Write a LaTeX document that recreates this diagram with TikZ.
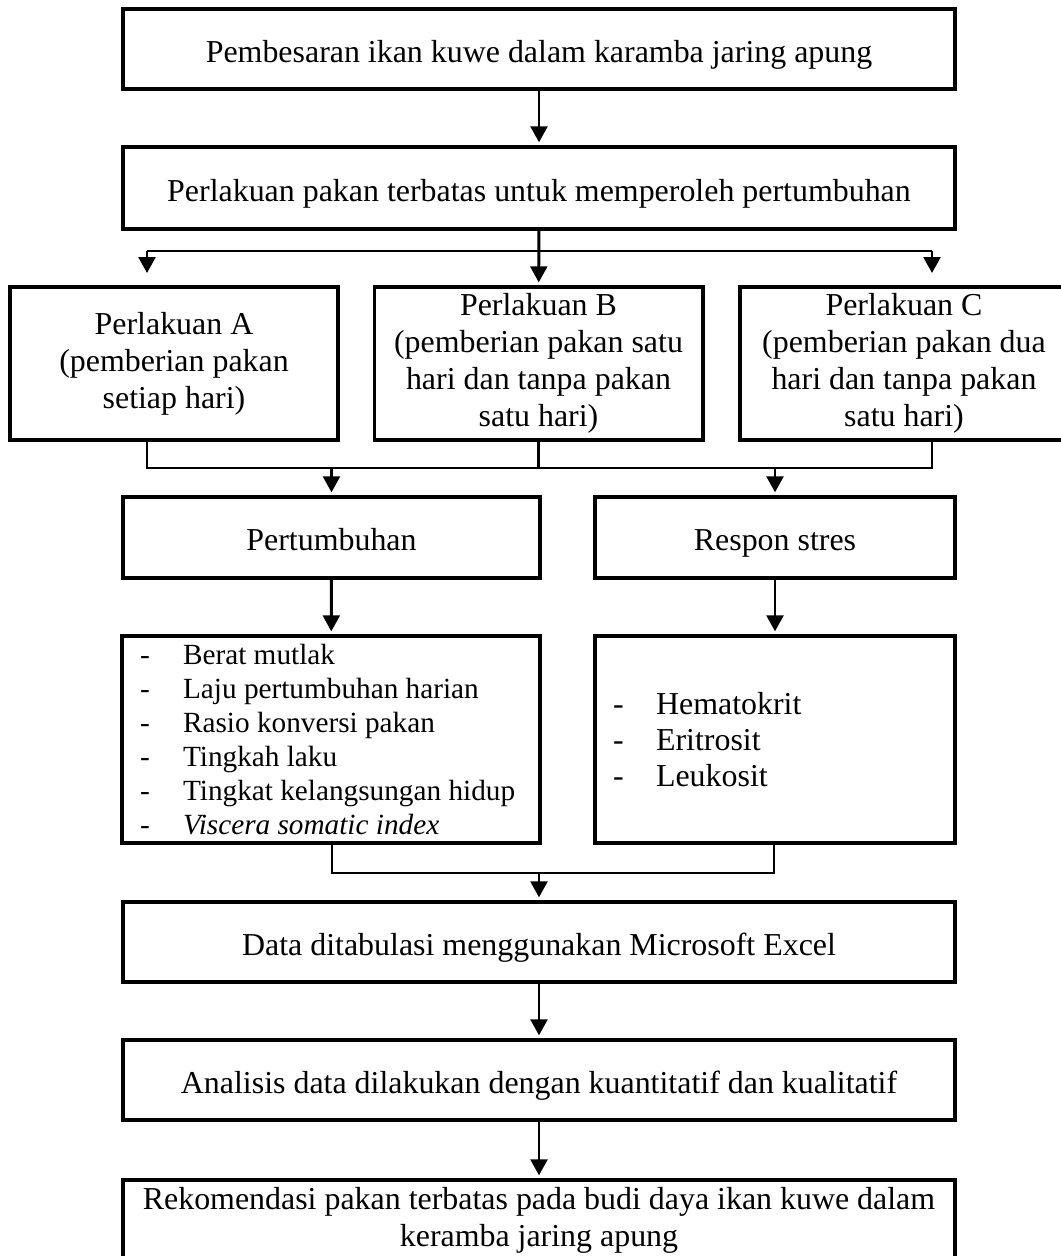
\documentclass[tikz,border=0pt]{standalone}
\usepackage{fontspec}
\setmainfont{Liberation Serif}
\usetikzlibrary{arrows.meta,positioning}
\newcommand{\px}{0.376pt}
\newcommand{\butir}[1]{\makebox[16.2pt][l]{-}#1}
\newcommand{\penyangga}{\rule[-0.3\baselineskip]{0pt}{1.33\baselineskip}}

\begin{document}
\begin{tikzpicture}[x=\px, y=-\px,
    dasar/.style={rectangle, draw, line width=1.5pt, align=center, inner sep=2pt, font=\fontsize{12}{13.9}\selectfont},
    box/.style={dasar, minimum width=832*\px, minimum height=80*\px, execute at begin node=\penyangga, execute at end node=\strut},
    perlakuan/.style={dasar, inner sep=0pt, minimum width=328*\px, minimum height=153*\px, execute at begin node=\rule{0pt}{12.5pt}},
    daftar/.style={dasar, minimum height=207*\px, align=flush left, inner xsep=18*\px, inner ysep=1pt},
    arrow/.style={-{Triangle[width=6.3pt,length=6pt]}, line width=1.1pt, shorten >=1pt},
    line/.style={line width=1.1pt}
]
    \useasboundingbox (0,0) rectangle (1060,1256);

    \node[box] (pembesaran) at (539,49) {Pembesaran ikan kuwe dalam karamba jaring apung};
    \node[box, minimum height=82*\px] (terbatas) at (539,188) {Perlakuan pakan terbatas untuk memperoleh pertumbuhan};

    \node[perlakuan] (perlA) at (174,363.5) {Perlakuan A\\(pemberian pakan\\setiap hari)};
    \node[perlakuan] (perlB) at (538.5,363.5) {Perlakuan B\\(pemberian pakan satu\\hari dan tanpa pakan\\satu hari)};
    \node[perlakuan] (perlC) at (904,363.5) {Perlakuan C\\(pemberian pakan dua\\hari dan tanpa pakan\\satu hari)};

    \node[box, minimum width=417*\px, minimum height=81*\px] (tumbuh) at (331.5,537.5) {Pertumbuhan};
    \node[box, minimum width=360*\px, minimum height=81*\px] (stres) at (775,537.5) {Respon stres};

    \node[daftar, minimum width=418*\px, text width=382*\px, font=\fontsize{11}{12.8}\selectfont] (listA) at (331,739.5) {%
        \butir{Berat mutlak}\\
        \butir{Laju pertumbuhan harian}\\
        \butir{Rasio konversi pakan}\\
        \butir{Tingkah laku}\\
        \butir{Tingkat kelangsungan hidup}\\
        \butir{\textit{Viscera somatic index}}};
    \node[daftar, minimum width=360*\px, text width=324*\px, font=\fontsize{12}{13.5}\selectfont] (listB) at (775,739.5) {%
        \butir{Hematokrit}\\
        \butir{Eritrosit}\\
        \butir{Leukosit}};

    \node[box] (tabulasi) at (539,942) {Data ditabulasi menggunakan Microsoft Excel};
    \node[box] (analisis) at (539,1080) {Analisis data dilakukan dengan kuantitatif dan kualitatif};
    \node[box, minimum height=84*\px] (rekom) at (539,1222) {Rekomendasi pakan terbatas pada budi daya ikan kuwe dalam\\keramba jaring apung};

    % cabang ke tiga perlakuan
    \coordinate (cabangA) at (147,251);
    \coordinate (cabangC) at (932,251);
    \coordinate (gabungA) at (147,468);
    \coordinate (gabungC) at (932,468);
    \coordinate (satuA) at (332,873);
    \coordinate (satuB) at (774,873);

    \draw[arrow] (pembesaran) -- (terbatas);
    \draw[arrow] (terbatas) -- (perlB);
    \draw[line] (cabangA) -- (cabangC);
    \draw[arrow, shorten >=4.5pt] (cabangA) -- (cabangA |- perlA.north);
    \draw[arrow, shorten >=4.5pt] (cabangC) -- (cabangC |- perlC.north);

    \draw[line] (perlA.south -| gabungA) -- (gabungA) -- (gabungC) -- (perlC.south -| gabungC);
    \draw[line] (perlB) -- (perlB |- gabungA);
    \draw[arrow] (tumbuh.north |- gabungA) -- (tumbuh.north);
    \draw[arrow] (stres.north |- gabungA) -- (stres.north);

    \draw[arrow] (tumbuh) -- (listA);
    \draw[arrow] (stres) -- (listB);

    \draw[line] (listA.south -| satuA) -- (satuA) -- (satuB) -- (listB.south -| satuB);
    \draw[arrow] (tabulasi.north |- satuA) -- (tabulasi.north);

    \draw[arrow] (tabulasi) -- (analisis);
    \draw[arrow] (analisis) -- (rekom);
\end{tikzpicture}
\end{document}
